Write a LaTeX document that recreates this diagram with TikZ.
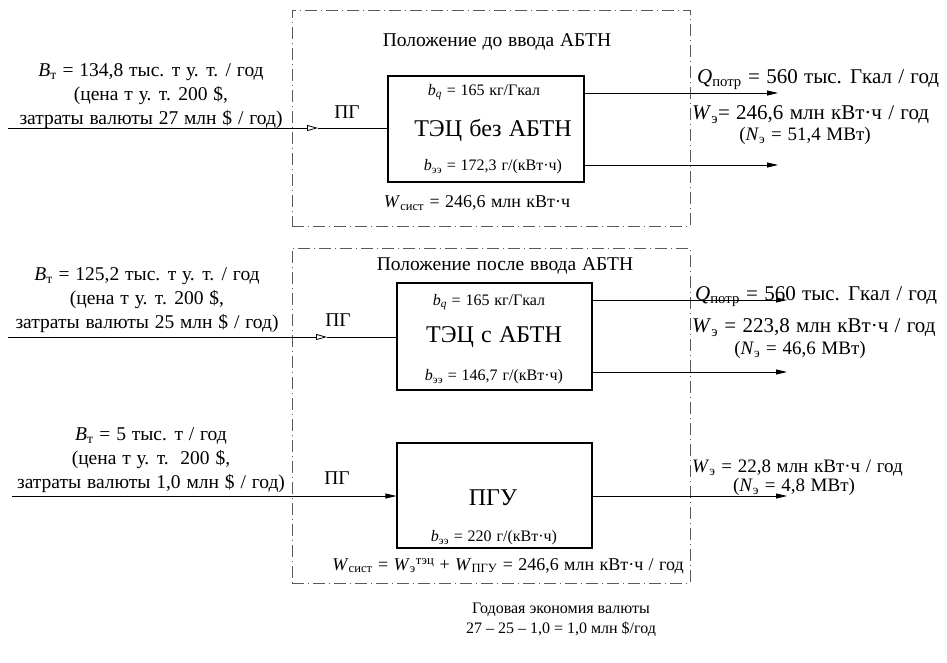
\documentclass[tikz,border=0pt]{standalone}
\usepackage{fontspec}
\setmainfont{Liberation Serif}
\usetikzlibrary{arrows.meta}
\newcommand{\vr}[2]{\textit{#1}\textsubscript{#2}}
\newcommand{\mainfs}{\fontsize{19.5}{24}\selectfont\spaceskip=0.3em plus 0.1em\relax}
\newcommand{\rightfs}{\fontsize{21}{24}\selectfont\spaceskip=0.3em plus 0.1em\relax}
\newcommand{\midfs}{\fontsize{19}{22}\selectfont\spaceskip=0.3em plus 0.1em\relax}
\newcommand{\sysfs}{\fontsize{18}{22}\selectfont\spaceskip=0.3em plus 0.1em\relax}
\newcommand{\smallfs}{\fontsize{16}{18}\selectfont\spaceskip=0.3em plus 0.1em\relax}
\newcommand{\bigfs}{\fontsize{24}{28}\selectfont\spaceskip=0.3em plus 0.1em\relax}
\newcommand{\ecofs}{\fontsize{16}{20}\selectfont}
\begin{document}
\begin{tikzpicture}[x=1pt,y=-1pt,
  lbl/.style={inner sep=0pt, font=\mainfs, align=center},
  rlbl/.style={inner sep=0pt, font=\rightfs},
  mlbl/.style={inner sep=0pt, font=\midfs},
  syslbl/.style={inner sep=0pt, font=\sysfs},
  smalllbl/.style={inner sep=0pt, font=\smallfs},
  biglbl/.style={inner sep=0pt, font=\bigfs},
  plant/.style={draw, line width=1.1pt, inner sep=0pt},
  frame/.style={draw=black!65, line width=0.9pt, dash pattern=on 12pt off 4pt on 1pt off 4pt},
  conn/.style={line width=0.8pt},
  fillarrow/.style={-{Triangle[length=11pt,width=5pt]}},
  openarrow/.style={-{Triangle[open,length=11pt,width=6pt]}}]
\useasboundingbox (0,0) rectangle (947,662);

% frames
\node[frame, minimum width=398pt, minimum height=216pt] (fr1) at (491,118) {};
\node[frame, minimum width=398pt, minimum height=335pt] (fr2) at (491,415.5) {};

% plants
\node[plant, minimum width=196pt, minimum height=106pt] (tec1) at (486,129) {};
\node[plant, minimum width=195pt, minimum height=107pt] (tec2) at (494.5,336.5) {};
\node[plant, minimum width=195pt, minimum height=105pt] (pgu) at (494.5,495.5) {};

% titles
\node[lbl] (t1) at (497,42) {Положение до ввода АБТН};
\node[lbl] (t2) at (505,266) {Положение после ввода АБТН};

% inner texts
\node[smalllbl] (bq1) at (484,92) {\textit{b}\textsubscript{\textit{q}} = 165 кг/Гкал};
\node[biglbl] (n1) at (493,130) {ТЭЦ без АБТН};
\node[smalllbl] (be1) at (493,167) {\vr{b}{ээ} = 172,3 г/(кВт·ч)};
\node[smalllbl] (bq2) at (489,302) {\textit{b}\textsubscript{\textit{q}} = 165 кг/Гкал};
\node[biglbl] (n2) at (494,337) {ТЭЦ с АБТН};
\node[smalllbl] (be2) at (494,377) {\vr{b}{ээ} = 146,7 г/(кВт·ч)};
\node[biglbl] (n3) at (493,498) {ПГУ};
\node[smalllbl] (be3) at (494,538) {\vr{b}{ээ} = 220 г/(кВт·ч)};

\node[syslbl] (ws1) at (477,203) {\vr{W}{сист} = 246,6 млн кВт·ч};
\node[syslbl] (ws2) at (508,566) {\vr{W}{сист} = \textit{W}\textsubscript{э}\textsuperscript{тэц} + \vr{W}{ПГУ} = 246,6 млн кВт·ч / год};

% left texts
\node[lbl] (l1) at (151,96) {\vr{B}{т} = 134,8 тыс. т у. т. / год\\(цена т у. т. 200 \$,\\затраты валюты 27 млн \$ / год)};
\node[lbl] (l2) at (147,300) {\vr{B}{т} = 125,2 тыс. т у. т. / год\\(цена т у. т. 200 \$,\\затраты валюты 25 млн \$ / год)};
\node[lbl] (l3) at (151,460) {\vr{B}{т} = 5 тыс. т / год\\(цена т у. т.\ \ 200 \$,\\затраты валюты 1,0 млн \$ / год)};
\node[lbl] (pg1) at (347,112) {ПГ};
\node[lbl] (pg2) at (338,320) {ПГ};
\node[lbl] (pg3) at (337,478) {ПГ};

% right texts
\node[rlbl, anchor=west] (q1t) at (697,80) {\vr{Q}{потр} = 560 тыс. Гкал / год};
\node[rlbl, anchor=west] (w1t) at (692,115) {\vr{W}{э}= 246,6 млн кВт·ч / год};
\node[mlbl] (n1t) at (805,136) {(\vr{N}{э} = 51,4 МВт)};
\node[rlbl, anchor=west] (q2t) at (695,297) {\vr{Q}{потр} = 560 тыс. Гкал / год};
\node[rlbl, anchor=west] (w2t) at (692,328) {\vr{W}{э} = 223,8 млн кВт·ч / год};
\node[mlbl] (n2t) at (800,350) {(\vr{N}{э} = 46,6 МВт)};
\node[mlbl, anchor=west] (w3t) at (692,468) {\vr{W}{э} = 22,8 млн кВт·ч / год};
\node[mlbl] (n3t) at (794,487) {(\vr{N}{э} = 4,8 МВт)};

% bottom
\node[lbl, font=\ecofs] (eco) at (561,620) {Годовая экономия валюты\\27 – 25 – 1,0 = 1,0 млн \$/год};

% inputs
\coordinate (in1) at (8,128);
\coordinate (mk1) at (318,128);
\coordinate (in2) at (8,337);
\coordinate (mk2) at (327,337);
\coordinate (in3) at (12,496);
\draw[conn, openarrow] (in1) -- (mk1);
\draw[conn] (mk1) -- (tec1.west |- mk1);
\draw[conn, openarrow] (in2) -- (mk2);
\draw[conn] (mk2) -- (tec2.west |- mk2);
\draw[conn, fillarrow] (in3) -- (pgu.west |- in3);

% outputs
\coordinate (o1) at (778,93);
\coordinate (o2) at (778,165);
\coordinate (o3) at (787,300);
\coordinate (o4) at (787,372);
\coordinate (o5) at (787,496);
\draw[conn, fillarrow] (tec1.east |- o1) -- (o1);
\draw[conn, fillarrow] (tec1.east |- o2) -- (o2);
\draw[conn, fillarrow] (tec2.east |- o3) -- (o3);
\draw[conn, fillarrow] (tec2.east |- o4) -- (o4);
\draw[conn, fillarrow] (pgu.east |- o5) -- (o5);
\end{tikzpicture}
\end{document}
